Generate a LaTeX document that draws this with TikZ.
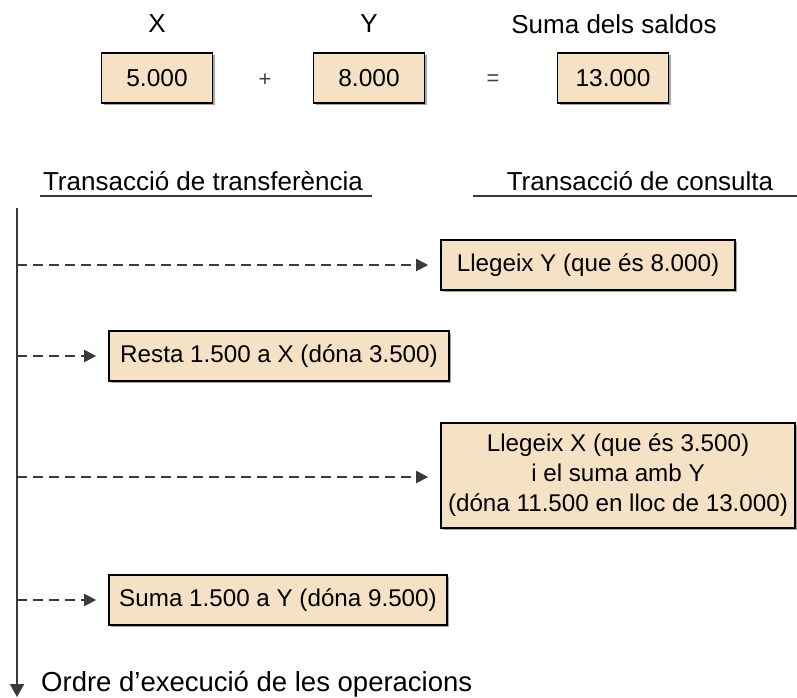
\documentclass[tikz,border=0pt]{standalone}
\usepackage{fontspec}
\setmainfont{Liberation Sans}
\usetikzlibrary{arrows.meta,shadows}
\definecolor{boxfill}{HTML}{F5E1C3}
\definecolor{linegray}{HTML}{3A3A3A}
\begin{document}
\begin{tikzpicture}[x=1pt,y=-1pt,
  valbox/.style={draw=black,line width=1.6pt,fill=boxfill,inner sep=0pt,
    minimum width=111pt,minimum height=50pt,font=\fontsize{24.5}{29}\selectfont,
    drop shadow={shadow xshift=2pt,shadow yshift=-2pt,fill=gray!70,opacity=1}},
  opbox/.style={draw=black,line width=1.6pt,fill=boxfill,inner sep=0pt,
    minimum height=50pt,font=\fontsize{24.2}{30}\selectfont,align=center,
    drop shadow={shadow xshift=2pt,shadow yshift=-2pt,fill=gray!70,opacity=1}},
  head/.style={font=\fontsize{26}{31}\selectfont,inner sep=0pt},
  sym/.style={font=\fontsize{22}{26}\selectfont,text=black!75,inner sep=0pt},
  dashline/.style={dash pattern=on 10pt off 6pt,line width=2pt,linegray,
    -{Triangle[length=12pt,width=12pt]},shorten >=12pt}]
\useasboundingbox (0,0) rectangle (797,697);
% top sum
\node[head] (hx) at (157,24) {X};
\node[head] (hy) at (369,24) {Y};
\node[head] (hs) at (614,24) {Suma dels saldos};
\node[valbox] (bx) at (157,78) {5.000};
\node[valbox] (by) at (369,78) {8.000};
\node[valbox] (bs) at (613,78) {13.000};
\node[sym] (plus) at (265,80) {+};
\node[sym] (eq) at (493,80) {=};
% headings
\node[head] (ht) at (203,181) {Transacció de transferència};
\node[head] (hc) at (640,181) {Transacció de consulta};
\coordinate (ul1a) at (40,196); \coordinate (ul1b) at (372,196);
\coordinate (ul2a) at (473,196); \coordinate (ul2b) at (797,196);
\draw[linegray,line width=2pt] (ul1a) -- (ul1b);
\draw[linegray,line width=2pt] (ul2a) -- (ul2b);
% timeline
\coordinate (ttop) at (17,208);
\coordinate (tbot) at (17,697);
\draw[linegray,line width=2pt,-{Triangle[length=13pt,width=14pt]}] (ttop) -- (tbot);
\node[head,anchor=west,font=\fontsize{27.5}{32}\selectfont] (order) at (41,684) {Ordre d’execució de les operacions};
% operation boxes
\node[opbox,minimum width=294pt] (o1) at (588,265) {Llegeix Y (que és 8.000)};
\node[opbox,minimum width=340pt] (o2) at (279,356) {Resta 1.500 a X (dóna 3.500)};
\node[opbox,minimum width=354pt,minimum height=105pt] (o3) at (618,475.5)
  {Llegeix X (que és 3.500)\\i el suma amb Y\\(dóna 11.500 en lloc de 13.000)};
\node[opbox,minimum width=338pt] (o4) at (278,600) {Suma 1.500 a Y (dóna 9.500)};
% dashed connectors
\coordinate (t1) at (17,265);
\coordinate (t2) at (17,356);
\coordinate (t3) at (17,477);
\coordinate (t4) at (17,600);
\draw[dashline] (t1) -- (t1 -| o1.west);
\draw[dashline] (t2) -- (t2 -| o2.west);
\draw[dashline] (t3) -- (t3 -| o3.west);
\draw[dashline] (t4) -- (t4 -| o4.west);
\end{tikzpicture}
\end{document}
